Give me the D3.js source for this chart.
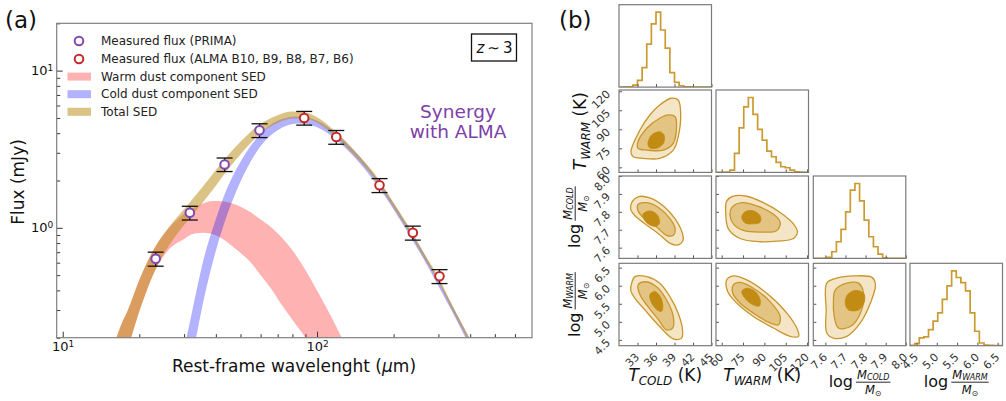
<!DOCTYPE html>
<html><head><meta charset="utf-8">
<script src="https://cdn.jsdelivr.net/npm/d3@7/dist/d3.min.js"></script>
<style>
html,body{margin:0;padding:0;background:#fff;}
svg{display:block;font-family:"DejaVu Sans",sans-serif;}
</style></head>
<body><svg id="chart" width="1006" height="401"></svg>
<script>
// ================= DATA: panel (a) =================
const primaWl   = [23.2, 31.6, 43.3, 59.4];
const primaFlux = [0.635, 1.246, 2.53, 4.17];
const primaErr  = [0.065, 0.125, 0.25, 0.42];
const almaWl    = [89, 119, 176, 238, 303];
const almaFlux  = [5.0, 3.78, 1.866, 0.93, 0.492];
const almaErr   = [0.5, 0.38, 0.19, 0.095, 0.05];

const warmWl = [16,17,18,20,23,26,30,33,36,39,43,48,55,60,66,72,80,90,100,112,125,140];
const warmHi = [0.186,0.243,0.297,0.466,0.745,0.985,1.23,1.35,1.44,1.48,1.47,1.40,1.25,1.13,1.01,0.88,0.72,0.54,0.40,0.285,0.2,0.14];
const warmLo = [0.098,0.133,0.171,0.294,0.53,0.72,0.85,0.92,0.93,0.91,0.84,0.73,0.60,0.50,0.41,0.33,0.26,0.2,0.15,0.11,0.08,0.06];

const coldWl = [28,30,32,36,40,43,48,55,60,70,84,100,120,140,173,200,233,260,295,340,395,450];
const coldHi = [0.1035,0.17,0.275,0.652,1.133,1.587,2.34,3.34,3.98,4.80,5.10,4.80,3.94,3.09,2.03,1.43,0.958,0.712,0.490,0.320,0.199,0.131];
const coldLo = [0.0473,0.0886,0.14,0.36,0.715,1.049,1.69,2.66,3.31,4.18,4.61,4.37,3.59,2.82,1.85,1.31,0.874,0.649,0.447,0.292,0.181,0.119];

const totalWl = [16,17,18,20,23,26,30,35,40,45,50,55,60,70,80,90,100,119,140,175,200,236,260,302,340,395,450];
const totalHi = [0.186,0.243,0.297,0.466,0.749,0.999,1.313,1.773,2.334,2.939,3.529,4.097,4.588,5.21,5.49,5.413,5.054,4.048,3.114,2.024,1.443,0.945,0.716,0.477,0.322,0.204,0.132];
const totalLo = [0.098,0.133,0.171,0.294,0.530,0.758,1.043,1.408,1.854,2.390,2.938,3.487,3.993,4.646,4.962,4.938,4.654,3.757,2.890,1.879,1.339,0.877,0.665,0.443,0.299,0.19,0.122];

const xMajorTicks = [10, 100];
const xMinorTicks = [20,30,40,50,60,70,80,90,200,300,400,500,600];
const yMajorTicks = [1, 10];
const yMinorTicks = [0.2,0.3,0.4,0.5,0.6,0.7,0.8,0.9,2,3,4,5,6,7,8,9,20];

const legendLabels = ["Measured flux (PRIMA)","Measured flux (ALMA B10, B9, B8, B7, B6)","Warm dust component SED","Cold dust component SED","Total SED"];

// ================= DATA: panel (b) corner =================
const tcoldRange = [30, 45],   tcoldTicks = [33,36,39,42,45];
const twarmRange = [56, 121],  twarmTicks = [60,75,90,105,120];
const mcoldRange = [7.54, 8.0], mcoldTicks = [7.6,7.7,7.8,7.9,8.0];
const mwarmRange = [4.34, 6.62], mwarmTicks = [4.5,5.0,5.5,6.0,6.5];

const histTcold = [0,0.5,1,6,20,58,128,188,223,170,116,43,14,4,1,0.5,0.3,0.2,0.1,0.1];
const histTwarm = [0,0,1,7,57,134,197,225,174,129,97,64,47,30,17,14,7,2,1,0.5];
const histMcold = [0,0,0.5,3,20,50,87,140,205,225,173,115,65,35,13,2,0.5,0.3,0.2,0.1];
const histMwarm = [1,6,23,26,48,73,98,138,178,223,203,188,163,98,43,8,2,1,0.5,0.3];

// contours [outer, middle, inner] in data units (x param, y param)
const contTwTc = [
 [[31.94,72.3],[33.4,89.4],[35.0,101.3],[36.6,109.2],[38.5,114.5],[39.6,113.1],[40.0,102.6],[39.6,84.1],[38.8,73.6],[36.6,67.1],[33.9,67.1],[32.3,68.3]],
 [[33.0,78.9],[34.5,90.8],[36.6,98.7],[38.0,101.3],[39.1,99.9],[39.3,89.4],[38.8,78.9],[37.2,73.6],[34.5,73.6],[33.1,74.9]],
 [[34.7,78.9],[35.3,85.5],[36.6,88.1],[37.3,85.5],[37.2,78.9],[36.1,75],[34.9,75.7]]];
const contMcTc = [
 [[32.05,7.851],[33.1,7.884],[35.0,7.878],[37.2,7.832],[39.1,7.76],[40.3,7.678],[40.4,7.642],[39.6,7.615],[38.3,7.624],[36.4,7.678],[34.2,7.733],[32.6,7.778],[31.9,7.814]],
 [[33.1,7.842],[34.5,7.851],[36.4,7.824],[38.3,7.76],[39.1,7.705],[38.8,7.669],[37.7,7.669],[36.1,7.715],[34.2,7.76],[33.1,7.805]],
 [[33.9,7.787],[35.0,7.805],[36.1,7.787],[36.6,7.742],[36.1,7.72],[35.0,7.727],[34.2,7.751]]];
const contMcTw = [
 [[63.5,7.86],[68.2,7.887],[77.6,7.887],[89.3,7.851],[101.1,7.796],[110.4,7.733],[113.2,7.687],[110.4,7.651],[98.8,7.636],[87,7.633],[72.9,7.651],[64.7,7.705],[62.8,7.796]],
 [[67.1,7.824],[74.1,7.851],[84.7,7.833],[96.4,7.787],[101.1,7.742],[98.8,7.696],[87,7.687],[75.2,7.696],[68.2,7.733],[65.9,7.778]],
 [[74.1,7.769],[76.4,7.8],[82.3,7.805],[87,7.778],[87,7.742],[82.3,7.733],[76.4,7.738]]];
const contMwTc = [
 [[32.05,6.068],[32.6,6.25],[34.5,6.25],[36.6,6.068],[38.25,5.70],[39.6,5.24],[40.3,4.78],[40.15,4.55],[38.8,4.53],[36.6,4.87],[34.2,5.33],[32.6,5.65],[31.9,5.88]],
 [[33.1,6.02],[34.2,6.11],[36.1,5.97],[37.7,5.61],[38.8,5.15],[38.7,4.83],[37.7,4.78],[36.4,5.06],[34.7,5.42],[33.4,5.75]],
 [[35.0,5.75],[35.8,5.84],[36.6,5.72],[37.1,5.47],[36.9,5.29],[36.2,5.33],[35.3,5.52]]];
const contMwTw = [
 [[63.5,6.16],[68.2,6.27],[77.6,6.16],[91.7,5.79],[105.8,5.24],[113.3,4.78],[114,4.60],[108.1,4.60],[96.4,4.83],[82.3,5.15],[70.6,5.52],[64.2,5.84]],
 [[68.2,6.02],[72.9,6.09],[82.3,5.93],[94,5.56],[101.1,5.15],[99.9,4.92],[94,4.97],[82.3,5.24],[72.9,5.52],[67.8,5.79]],
 [[74.1,5.84],[77.6,5.93],[83.5,5.84],[87,5.61],[86.5,5.44],[82.3,5.47],[77.1,5.62]]];
const contMwMc = [
 [[7.607,6.07],[7.657,6.21],[7.74,6.27],[7.832,6.23],[7.849,6.02],[7.824,5.52],[7.774,4.97],[7.707,4.60],[7.64,4.55],[7.607,4.69],[7.604,5.33]],
 [[7.649,5.88],[7.707,6.07],[7.765,6.07],[7.79,5.79],[7.774,5.24],[7.724,4.87],[7.665,4.83],[7.644,5.15],[7.64,5.52]],
 [[7.699,5.52],[7.71,5.75],[7.749,5.87],[7.79,5.79],[7.794,5.56],[7.765,5.33],[7.715,5.33]]];

// ================= DRAW =================
const svg = d3.select("#chart");
const defs = svg.append("defs");
const FONT = "DejaVu Sans";

// ---------- Panel (a) ----------
const A = {l:56.7, r:532, t:23.3, b:337.7};
const x = d3.scaleLog().domain([9.47,700]).range([A.l,A.r]);
const y = d3.scaleLog().domain([0.2,20]).range([A.b,A.t]);
defs.append("clipPath").attr("id","clipA").append("rect")
  .attr("x",A.l).attr("y",A.t).attr("width",A.r-A.l).attr("height",A.b-A.t);

const gA = svg.append("g");
const bandG = gA.append("g").attr("clip-path","url(#clipA)");
function band(wl, lo, hi, fill){
  const d = wl.map((w,i)=>({w, lo:lo[i], hi:hi[i]}));
  bandG.append("path").datum(d).attr("fill",fill).attr("stroke","none")
    .attr("d", d3.area().x(p=>x(p.w)).y0(p=>y(p.lo)).y1(p=>y(p.hi)).curve(d3.curveMonotoneX));
}
const warmCol = "rgba(255,0,0,0.3)", coldCol = "rgba(0,0,255,0.3)", totCol = "rgba(184,134,11,0.5)";
band(warmWl, warmLo, warmHi, warmCol);
band(coldWl, coldLo, coldHi, coldCol);
band(totalWl, totalLo, totalHi, totCol);

function supLabels(g){
  g.attr("font-size",13).attr("font-family",FONT);
  g.selectAll(".tick text").attr("fill","#111").text(null).each(function(d){
    const t = d3.select(this);
    t.append("tspan").text("10");
    t.append("tspan").attr("dy","-0.45em").attr("font-size","9px").text(Math.round(Math.log10(d)));
  });
}
const axCol = "#333";
gA.append("g").attr("transform",`translate(0,${A.b})`).attr("color",axCol)
  .call(d3.axisBottom(x).tickValues(xMinorTicks).tickSize(-3.5).tickFormat(""))
  .call(g=>g.select(".domain").remove());
gA.append("g").attr("transform",`translate(0,${A.b})`).attr("color",axCol)
  .call(d3.axisBottom(x).tickValues(xMajorTicks).tickSize(-6).tickPadding(4))
  .call(g=>g.select(".domain").remove()).call(supLabels);
gA.append("g").attr("transform",`translate(${A.l},0)`).attr("color",axCol)
  .call(d3.axisLeft(y).tickValues(yMinorTicks).tickSize(-3.5).tickFormat(""))
  .call(g=>g.select(".domain").remove());
gA.append("g").attr("transform",`translate(${A.l},0)`).attr("color",axCol)
  .call(d3.axisLeft(y).tickValues(yMajorTicks).tickSize(-6).tickPadding(3.5))
  .call(g=>g.select(".domain").remove()).call(supLabels);

gA.append("rect").attr("x",A.l).attr("y",A.t).attr("width",A.r-A.l).attr("height",A.b-A.t)
  .attr("fill","none").attr("stroke","#808080").attr("stroke-width",1.2);

// error bars + points
const primaCol = "#8048b0", almaCol = "#c42a2a";
function points(wl, fl, er, col){
  const d = wl.map((w,i)=>({w, f:fl[i], e:er[i]}));
  const g = gA.append("g");
  const eb = g.selectAll("g.eb").data(d).join("g").attr("stroke","#111").attr("stroke-width",1.3);
  eb.append("line").attr("x1",p=>x(p.w)).attr("x2",p=>x(p.w)).attr("y1",p=>y(p.f-p.e)).attr("y2",p=>y(p.f+p.e));
  eb.append("line").attr("x1",p=>x(p.w)-8).attr("x2",p=>x(p.w)+8).attr("y1",p=>y(p.f-p.e)).attr("y2",p=>y(p.f-p.e));
  eb.append("line").attr("x1",p=>x(p.w)-8).attr("x2",p=>x(p.w)+8).attr("y1",p=>y(p.f+p.e)).attr("y2",p=>y(p.f+p.e));
  g.selectAll("circle").data(d).join("circle").attr("cx",p=>x(p.w)).attr("cy",p=>y(p.f)).attr("r",4.3)
    .attr("fill","#fff").attr("stroke",col).attr("stroke-width",2);
}
points(primaWl, primaFlux, primaErr, primaCol);
points(almaWl, almaFlux, almaErr, almaCol);

// legend
const legY = [41, 59, 76.6, 94.2, 111.8];
const lg = gA.append("g");
[primaCol, almaCol].forEach((c,i)=>{
  lg.append("circle").attr("cx",79).attr("cy",legY[i]).attr("r",4.3).attr("fill","#fff").attr("stroke",c).attr("stroke-width",2);
});
[warmCol, coldCol, totCol].forEach((c,i)=>{
  lg.append("rect").attr("x",67.5).attr("y",legY[i+2]-4).attr("width",23.5).attr("height",8).attr("fill",c);
});
legendLabels.forEach((t,i)=>{
  lg.append("text").attr("x",101).attr("y",legY[i]).attr("dy","0.35em").attr("font-size",12).attr("fill","#222").text(t);
});

// z ~ 3 box
const zg = gA.append("g");
const zrect = zg.append("rect");
const zt = zg.append("text").attr("x",494.5).attr("y",47.5).attr("dy","0.35em").attr("text-anchor","middle").attr("font-size",15).attr("fill","#111");
zt.append("tspan").attr("font-style","italic").text("z");
zt.append("tspan").text("\u2009\u223C\u20093");
const zb = zt.node().getBBox();
zrect.attr("x",zb.x-4).attr("y",34).attr("width",zb.width+8).attr("height",27)
  .attr("fill","#fff").attr("stroke","#111").attr("stroke-width",1.3);

// Synergy text
gA.append("text").attr("x",458).attr("y",118).attr("text-anchor","middle").attr("font-size",18.5).attr("fill","#7d40a8").text("Synergy");
gA.append("text").attr("x",458).attr("y",138).attr("text-anchor","middle").attr("font-size",18.5).attr("fill","#7d40a8").text("with ALMA");

// axis titles
gA.append("text").attr("transform","translate(24,182) rotate(-90)").attr("text-anchor","middle").attr("font-size",17).attr("fill","#111").text("Flux (mJy)");
const xt = gA.append("text").attr("x",294).attr("y",372).attr("text-anchor","middle").attr("font-size",17).attr("fill","#111");
xt.append("tspan").text("Rest-frame wavelenght (");
xt.append("tspan").attr("font-style","italic").text("\u03BC");
xt.append("tspan").text("m)");

svg.append("text").attr("x",5).attr("y",28).attr("font-size",23).attr("fill","#111").text("(a)");
svg.append("text").attr("x",559).attr("y",28).attr("font-size",23).attr("fill","#111").text("(b)");

// ---------- Panel (b) corner ----------
const colX = [619, 716, 813.3, 910], rowY = [4.7, 90, 176, 263.3], cw = 92.5, ch = 82.4;
const params = [
  {range:tcoldRange, ticks:tcoldTicks, hist:histTcold, fmt:d3.format("d")},
  {range:twarmRange, ticks:twarmTicks, hist:histTwarm, fmt:d3.format("d")},
  {range:mcoldRange, ticks:mcoldTicks, hist:histMcold, fmt:d3.format(".1f")},
  {range:mwarmRange, ticks:mwarmTicks, hist:histMwarm, fmt:d3.format(".1f")}
];
const contours = {"1,0":contTwTc, "2,0":contMcTc, "2,1":contMcTw, "3,0":contMwTc, "3,1":contMwTw, "3,2":contMwMc};
const contFill = ["#f4e5c6", "#e3c482", "#c28c14"];
const contStroke = "#c9962c";
const gB = svg.append("g");

for (let r=0; r<4; r++){
  for (let c=0; c<=r; c++){
    const x0 = colX[c], y0 = rowY[r];
    const sx = d3.scaleLinear().domain(params[c].range).range([x0, x0+cw]);
    const g = gB.append("g");
    const cid = `clip${r}${c}`;
    defs.append("clipPath").attr("id",cid).append("rect").attr("x",x0).attr("y",y0).attr("width",cw).attr("height",ch);
    const inner = g.append("g").attr("clip-path",`url(#${cid})`);
    let sy;
    if (r===c){
      const h = params[c].hist;
      sy = d3.scaleLinear().domain([0, d3.max(h)*1.1]).range([y0+ch, y0]);
      const [a,b] = params[c].range, n = h.length;
      const edges = d3.range(n+1).map(i=>a+i*(b-a)/n);
      const pts = [[edges[0],0]];
      h.forEach((v,i)=>{ pts.push([edges[i],v]); pts.push([edges[i+1],v]); });
      pts.push([edges[n],0]);
      inner.append("path").datum(pts).attr("fill","none").attr("stroke","#cc9a30").attr("stroke-width",1.7)
        .attr("d", d3.line().x(p=>sx(p[0])).y(p=>sy(p[1])));
    } else {
      sy = d3.scaleLinear().domain(params[r].range).range([y0+ch, y0]);
      const cs = contours[`${r},${c}`];
      const line = d3.line().x(p=>sx(p[0])).y(p=>sy(p[1])).curve(d3.curveCatmullRomClosed.alpha(0.5));
      cs.forEach((poly,k)=>{
        inner.append("path").datum(poly).attr("d",line).attr("fill",contFill[k])
          .attr("stroke", k<2 ? contStroke : contFill[2]).attr("stroke-width", k<2 ? 1.3 : 0.8);
      });
    }
    const ax = g.append("g").attr("transform",`translate(0,${y0+ch})`).attr("color","#555")
      .call(d3.axisBottom(sx).tickValues(params[c].ticks).tickSize(-3).tickFormat(params[c].fmt))
      .call(s=>s.select(".domain").remove());
    if (r===3){
      ax.attr("font-size",11).attr("font-family",FONT);
      ax.selectAll(".tick text").attr("fill","#333").attr("text-anchor","end")
        .attr("x",2).attr("y",12).attr("dy",0).attr("transform","rotate(-45,2,12)");
    } else ax.selectAll(".tick text").remove();
    if (r!==c){
      const ay = g.append("g").attr("transform",`translate(${x0},0)`).attr("color","#555")
        .call(d3.axisLeft(sy).tickValues(params[r].ticks).tickSize(-3).tickFormat(params[r].fmt))
        .call(s=>s.select(".domain").remove());
      if (c===0){
        ay.attr("font-size",11).attr("font-family",FONT);
        ay.selectAll(".tick text").attr("fill","#333").attr("text-anchor","end")
          .attr("x",-8).attr("y",3).attr("dy",0).attr("transform","rotate(-45,-8,3)");
      } else ay.selectAll(".tick text").remove();
    }
    g.append("rect").attr("x",x0).attr("y",y0).attr("width",cw).attr("height",ch)
      .attr("fill","none").attr("stroke","#7a7a7a").attr("stroke-width",1.2);
  }
}

// corner axis labels
function tLabel(parent, sub, fs){
  const t = parent.append("text").attr("text-anchor","middle").attr("font-size",fs).attr("fill","#111");
  t.append("tspan").attr("font-style","italic").text("T");
  t.append("tspan").attr("font-style","italic").attr("font-size",fs*0.7).attr("dy",fs*0.22).text(sub);
  t.append("tspan").attr("dy",-fs*0.22).text(" (K)");
  return t;
}
function logFrac(parent, sub, fs){
  const g = parent.append("g");
  const lt = g.append("text").attr("x",0).attr("y",0).attr("font-size",fs).attr("fill","#111").text("log");
  const lw = lt.node().getComputedTextLength();
  const nfs = fs*0.72, sfs = fs*0.5;
  const fx = lw + 3;
  const bar = -fs*0.3;
  const num = g.append("text").attr("y",bar-3.2).attr("font-size",nfs).attr("fill","#111").attr("text-anchor","middle");
  num.append("tspan").attr("font-style","italic").text("M");
  num.append("tspan").attr("font-style","italic").attr("font-size",sfs).attr("dy",1.2).text(sub);
  const den = g.append("text").attr("y",bar+11.8).attr("font-size",nfs).attr("fill","#111").attr("text-anchor","middle");
  den.append("tspan").attr("font-style","italic").text("M");
  den.append("tspan").attr("font-size",sfs).attr("dy",1.8).text("\u2299");
  const nw = num.node().getComputedTextLength(), dw = den.node().getComputedTextLength();
  const fw = Math.max(nw, dw) + 2;
  num.attr("x", fx + fw/2); den.attr("x", fx + fw/2);
  g.append("line").attr("x1",fx).attr("x2",fx+fw).attr("y1",bar).attr("y2",bar).attr("stroke","#111").attr("stroke-width",0.9);
  const total = fx + fw;
  g.selectAll("text,line").attr("transform",`translate(${-total/2},0)`);
  return g;
}
const cx = colX.map(v=>v+cw/2), cy = rowY.map(v=>v+ch/2);
tLabel(gB.append("g").attr("transform",`translate(${cx[0]},381)`), "COLD", 17);
tLabel(gB.append("g").attr("transform",`translate(${cx[1]},381)`), "WARM", 17);
logFrac(gB.append("g").attr("transform",`translate(${cx[2]},387)`), "COLD", 16);
logFrac(gB.append("g").attr("transform",`translate(${cx[3]},387)`), "WARM", 16);
tLabel(gB.append("g").attr("transform",`translate(586,${cy[1]}) rotate(-90)`), "WARM", 17);
logFrac(gB.append("g").attr("transform",`translate(580,${cy[2]}) rotate(-90)`), "COLD", 16);
logFrac(gB.append("g").attr("transform",`translate(580,${cy[3]}) rotate(-90)`), "WARM", 16);
</script>
</body></html>
